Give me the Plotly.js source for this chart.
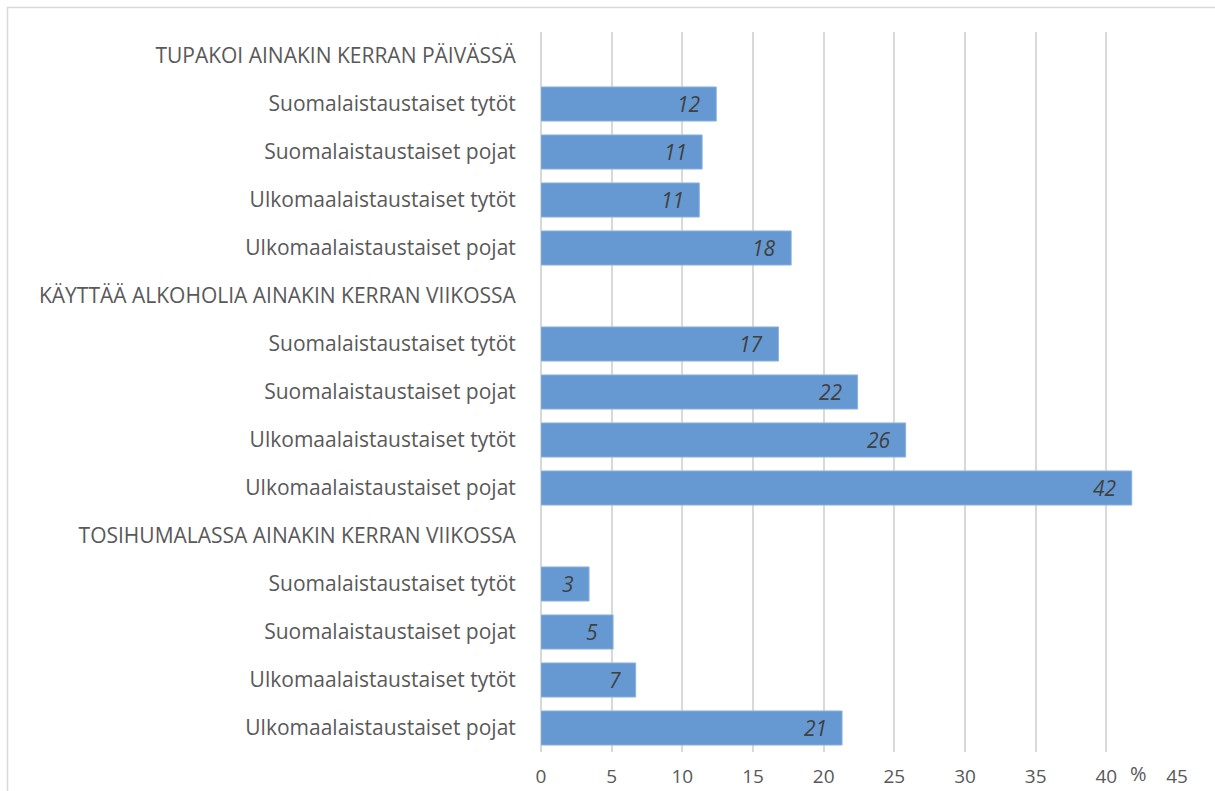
<!DOCTYPE html>
<html>
<head>
<meta charset="utf-8">
<script src="https://cdn.plot.ly/plotly-3.0.1.min.js"></script>
<style>
html, body { margin: 0; padding: 0; background: #ffffff; }
#chart { width: 1215px; height: 791px; }
</style>
</head>
<body>
<div id="chart"></div>
<script>
const groups = [
  "TUPAKOI AINAKIN KERRAN PÄIVÄSSÄ",
  "KÄYTTÄÄ ALKOHOLIA AINAKIN KERRAN VIIKOSSA",
  "TOSIHUMALASSA AINAKIN KERRAN VIIKOSSA"
];
const subgroups = [
  "Suomalaistaustaiset tytöt",
  "Suomalaistaustaiset pojat",
  "Ulkomaalaistaustaiset tytöt",
  "Ulkomaalaistaustaiset pojat"
];
const smokingValues = [12.4, 11.4, 11.2, 17.7];
const alcoholValues = [16.8, 22.4, 25.8, 41.8];
const drunkValues = [3.4, 5.1, 6.7, 21.3];
const smokingLabels = ["12", "11", "11", "18"];
const alcoholLabels = ["17", "22", "26", "42"];
const drunkLabels = ["3", "5", "7", "21"];
const xTicks = [0, 5, 10, 15, 20, 25, 30, 35, 40, 45];
const unitLabel = "%";

const groupValues = [smokingValues, alcoholValues, drunkValues];
const groupLabels = [smokingLabels, alcoholLabels, drunkLabels];

const rowText = [], rowPos = [], barX = [], barY = [], barText = [];
let idx = 0;
groups.forEach((g, gi) => {
  rowText.push(g); rowPos.push(idx); idx++;
  subgroups.forEach((s, si) => {
    rowText.push(s); rowPos.push(idx);
    barX.push(groupValues[gi][si]);
    barY.push(idx);
    barText.push(groupLabels[gi][si]);
    idx++;
  });
});

const FONT = "'Open Sans', 'Noto Sans', sans-serif";
const TEXTC = "#595959";

const trace = {
  type: "bar",
  orientation: "h",
  x: barX,
  y: barY,
  width: 0.71,
  marker: { color: "#6699D1", line: { color: "#8AB2DD", width: 1 } },
  hoverinfo: "skip"
};

const annotations = barX.map((v, i) => ({
  x: v, y: barY[i], xref: "x", yref: "y",
  text: "<i>" + barText[i] + "</i>",
  showarrow: false, xanchor: "right", yanchor: "middle",
  xshift: -13,
  font: { family: FONT, size: 21, color: "#404040" }
}));
annotations.push({
  x: 42.3, y: 0, xref: "x", yref: "paper", yanchor: "top", yshift: -6,
  text: unitLabel, showarrow: false,
  font: { family: FONT, size: 20, color: TEXTC }
});

const layout = {
  width: 1215, height: 791,
  margin: { l: 541, r: 38, t: 32, b: 39, pad: 0 },
  paper_bgcolor: "#ffffff",
  plot_bgcolor: "#ffffff",
  showlegend: false,
  font: { family: FONT, size: 18, color: TEXTC },
  xaxis: {
    range: [0, 45],
    tickvals: xTicks,
    ticktext: xTicks.map(String),
    showgrid: true, gridcolor: "#d9d9d9", gridwidth: 2,
    zeroline: true, zerolinecolor: "#d9d9d9", zerolinewidth: 2,
    showline: false,
    ticks: "outside", ticklen: 7, tickcolor: "rgba(0,0,0,0)",
    tickfont: { family: FONT, size: 19, color: TEXTC },
    fixedrange: true
  },
  yaxis: {
    range: [idx - 0.5, -0.5],
    tickvals: rowPos,
    ticktext: rowText,
    showgrid: false, zeroline: false, showline: false,
    ticks: "outside", ticklen: 20, tickcolor: "rgba(0,0,0,0)",
    tickfont: { family: FONT, size: 21, color: TEXTC },
    fixedrange: true
  },
  annotations: annotations,
  shapes: [{
    type: "rect", xref: "paper", yref: "paper",
    x0: (7.5 - 541) / 636, x1: (1230 - 541) / 636,
    y0: (752 - 810) / 720, y1: (752 - 7.5) / 720,
    line: { color: "#d9d9d9", width: 1.5 }, fillcolor: "rgba(0,0,0,0)",
    layer: "below"
  }]
};

Plotly.newPlot("chart", [trace], layout, { displayModeBar: false, staticPlot: true });
</script>
</body>
</html>
